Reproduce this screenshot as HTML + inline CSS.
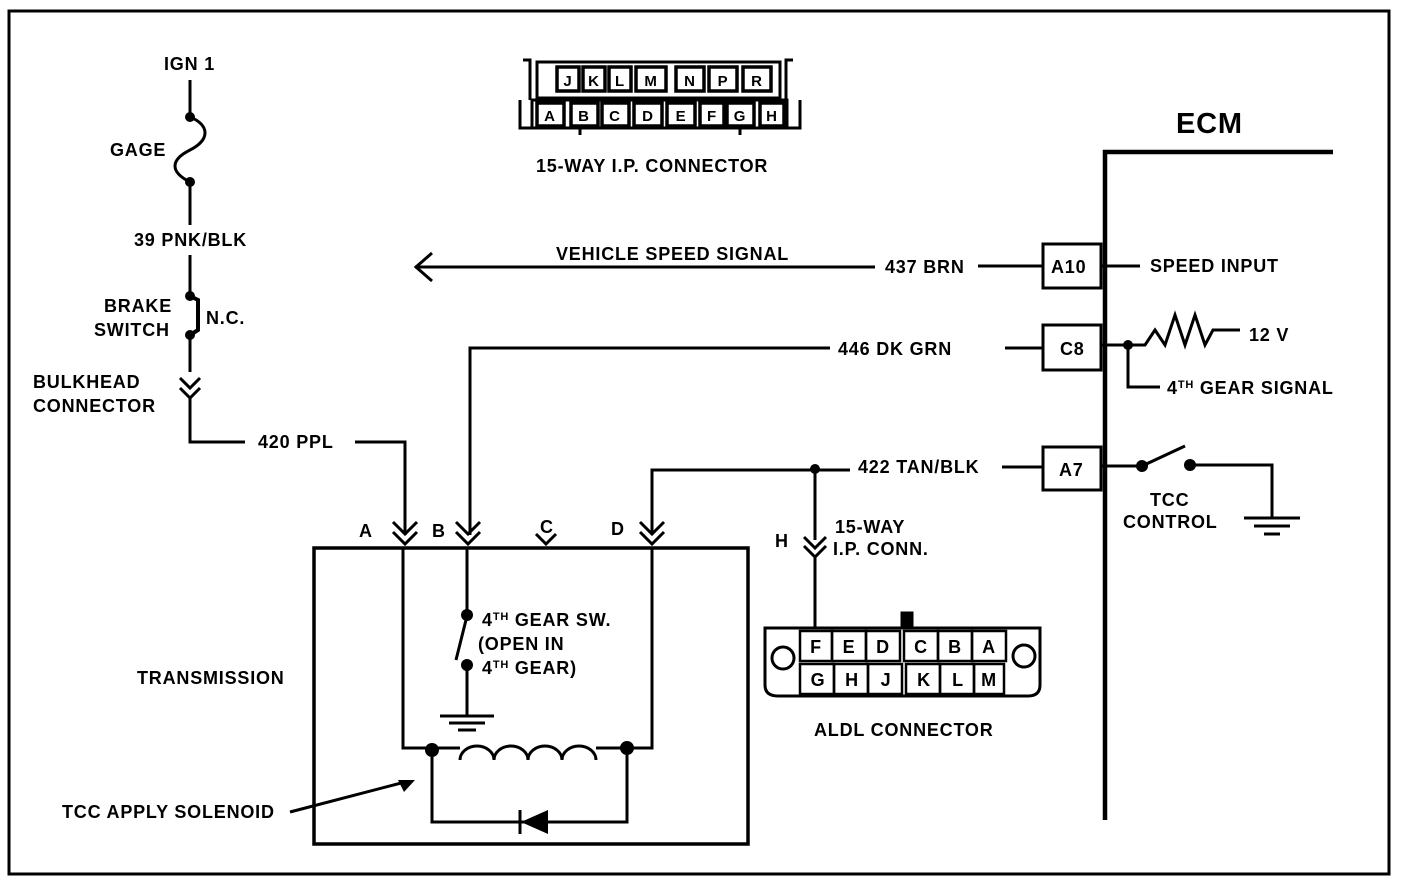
<!DOCTYPE html>
<html><head><style>html,body{margin:0;padding:0;background:#fff}svg{display:block}
text{font-family:"Liberation Sans",sans-serif;font-weight:bold;font-size:18px;letter-spacing:0.8px;fill:#000}</style></head><body>
<svg width="1408" height="886" viewBox="0 0 1408 886" xmlns="http://www.w3.org/2000/svg">
<g stroke="#000" fill="none" stroke-width="3">
<rect x="9" y="11" width="1380" height="863" stroke-width="3"/>
<line x1="190" y1="80" x2="190" y2="117"/>
<path d="M190 117 C210 125,210 140,190 150 C170 160,170 172,190 182" stroke-width="3"/>
<line x1="190" y1="182" x2="190" y2="225"/>
<line x1="190" y1="255" x2="190" y2="292"/>
<path d="M190 296 L198 300 L198 330 L190 335" stroke-width="4"/>
<line x1="190" y1="335" x2="190" y2="372"/>
<path d="M180 378 L190 388 L200 378 M180 388 L190 398 L200 388" stroke-width="3"/>
<polyline points="190,398 190,442 245,442"/>
<polyline points="355,442 405,442 405,535"/>
<rect x="314" y="548" width="434" height="296" stroke-width="3.5"/>
<path d="M393 522 L405 534 L417 522 M393 532 L405 544 L417 532" stroke-width="3"/>
<path d="M456 522 L468 534 L480 522 M456 532 L468 544 L480 532" stroke-width="3"/>
<path d="M536 534 L546 544 L556 534" stroke-width="3"/>
<path d="M640 522 L652 534 L664 522 M640 532 L652 544 L664 532" stroke-width="3"/>
<polyline points="470,535 470,348 830,348"/>
<polyline points="652,535 652,470 850,470"/>
<line x1="815" y1="470" x2="815" y2="540"/>
<path d="M804 537 L815 548 L826 537 M804 546 L815 557 L826 546" stroke-width="3"/>
<line x1="815" y1="557" x2="815" y2="628"/>
<polyline points="403,548 403,748 432,748"/>
<polyline points="652,548 652,748 627,748"/>
<line x1="467" y1="548" x2="467" y2="615"/>
<line x1="467" y1="616" x2="456" y2="660" stroke-width="3"/>
<line x1="467" y1="665" x2="467" y2="715"/>
<line x1="440" y1="716" x2="494" y2="716"/>
<line x1="449" y1="723" x2="485" y2="723"/>
<line x1="458" y1="730" x2="476" y2="730"/>
<line x1="432" y1="748" x2="460" y2="748"/>
<path d="M460 760 a17 14 0 0 1 34 0 a17 14 0 0 1 34 0 a17 14 0 0 1 34 0 a17 14 0 0 1 34 0"/>
<line x1="596" y1="748" x2="627" y2="748"/>
<polyline points="432,748 432,822 627,822 627,748"/>
<line x1="520" y1="810" x2="520" y2="834" stroke-width="3"/>
<line x1="290" y1="812" x2="405" y2="782"/>
<polyline points="1333,152 1105,152 1105,820" stroke-width="4.5"/>
<rect x="1043" y="244" width="58" height="44"/>
<rect x="1043" y="325" width="58" height="45"/>
<rect x="1043" y="447" width="58" height="43"/>
<line x1="415" y1="267" x2="875" y2="267"/>
<path d="M432 253 L416 267 L432 281"/>
<line x1="978" y1="266" x2="1043" y2="266"/>
<line x1="1101" y1="266" x2="1140" y2="266"/>
<line x1="1005" y1="348" x2="1043" y2="348"/>
<polyline points="1101,345 1145,345 1155,330 1165,345 1175,315 1185,345 1195,315 1205,345 1213,330 1240,330"/>
<polyline points="1128,345 1128,387 1160,387"/>
<line x1="1002" y1="467" x2="1043" y2="467"/>
<line x1="1101" y1="466" x2="1142" y2="466"/>
<line x1="1142" y1="466" x2="1185" y2="446" stroke-width="3"/>
<polyline points="1190,465 1272,465 1272,518"/>
<line x1="1244" y1="518" x2="1300" y2="518"/>
<line x1="1254" y1="526" x2="1290" y2="526"/>
<line x1="1264" y1="534" x2="1280" y2="534"/>
<path d="M523 60 L530 60 L530 100 M793 60 L786 60 L786 100" />
<rect x="537" y="62" width="243" height="36"/>
<path d="M520 100 L520 128 L800 128 L800 100"/>
<rect x="532" y="100" width="255" height="28"/>
<path d="M580 128 L580 135 M740 128 L740 135"/>
<path d="M765 628 L1040 628 L1040 685 Q1040 696 1028 696 L778 696 Q765 696 765 685 Z"/>
<rect x="902" y="613" width="10" height="15" fill="#000"/>
<circle cx="783" cy="658" r="11"/>
<circle cx="1024" cy="656" r="11"/>
</g>
<g fill="#000">
<circle cx="190" cy="117" r="5"/><circle cx="190" cy="182" r="5"/>
<circle cx="190" cy="296" r="5"/><circle cx="190" cy="335" r="5"/>
<circle cx="815" cy="469" r="5"/>
<circle cx="467" cy="615" r="6"/><circle cx="467" cy="665" r="6"/>
<circle cx="432" cy="750" r="7"/><circle cx="627" cy="748" r="7"/>
<polygon points="521,822 548,810 548,834"/>
<polygon points="415,780 398,780 404,792"/>
<circle cx="1128" cy="345" r="5"/>
<circle cx="1142" cy="466" r="6"/><circle cx="1190" cy="465" r="6"/>
</g>
<g stroke="#000" stroke-width="3.5" fill="#fff">
<rect x="557" y="67" width="22" height="24"/><rect x="583" y="67" width="22" height="24"/><rect x="609" y="67" width="22" height="24"/><rect x="636" y="67" width="30" height="24"/><rect x="676" y="67" width="28" height="24"/><rect x="709" y="67" width="28" height="24"/><rect x="743" y="67" width="28" height="24"/>
<rect x="537" y="103" width="27" height="23"/><rect x="571" y="103" width="27" height="23"/><rect x="602" y="103" width="27" height="23"/><rect x="634" y="103" width="28" height="23"/><rect x="667" y="103" width="28" height="23"/><rect x="700" y="103" width="24" height="23"/><rect x="727" y="103" width="27" height="23"/><rect x="760" y="103" width="24" height="23"/>
</g>
<g stroke="#000" stroke-width="2.5" fill="none">
<rect x="800" y="631" width="32" height="30"/><rect x="832" y="631" width="34" height="30"/><rect x="866" y="631" width="34" height="30"/><rect x="904" y="631" width="34" height="30"/><rect x="938" y="631" width="34" height="30"/><rect x="972" y="631" width="34" height="30"/>
<rect x="800" y="664" width="34" height="30"/><rect x="834" y="664" width="34" height="30"/><rect x="868" y="664" width="34" height="30"/><rect x="906" y="664" width="34" height="30"/><rect x="940" y="664" width="34" height="30"/><rect x="974" y="664" width="30" height="30"/>
</g>
<g text-anchor="middle">
<text x="568" y="86" style="font-size:15px">J</text><text x="594" y="86" style="font-size:15px">K</text><text x="620" y="86" style="font-size:15px">L</text><text x="651" y="86" style="font-size:15px">M</text><text x="690" y="86" style="font-size:15px">N</text><text x="723" y="86" style="font-size:15px">P</text><text x="757" y="86" style="font-size:15px">R</text>
<text x="550" y="121" style="font-size:15px">A</text><text x="584" y="121" style="font-size:15px">B</text><text x="615" y="121" style="font-size:15px">C</text><text x="648" y="121" style="font-size:15px">D</text><text x="681" y="121" style="font-size:15px">E</text><text x="712" y="121" style="font-size:15px">F</text><text x="740" y="121" style="font-size:15px">G</text><text x="772" y="121" style="font-size:15px">H</text>
<text x="816" y="653">F</text><text x="849" y="653">E</text><text x="883" y="653">D</text><text x="921" y="653">C</text><text x="955" y="653">B</text><text x="989" y="653">A</text>
<text x="818" y="686">G</text><text x="852" y="686">H</text><text x="886" y="686">J</text><text x="924" y="686">K</text><text x="958" y="686">L</text><text x="989" y="686">M</text>
</g>
<text x="164" y="70">IGN 1</text>
<text x="110" y="156">GAGE</text>
<text x="134" y="246">39  PNK/BLK</text>
<text x="104" y="312">BRAKE</text>
<text x="94" y="336">SWITCH</text>
<text x="206" y="324">N.C.</text>
<text x="33" y="388">BULKHEAD</text>
<text x="33" y="412">CONNECTOR</text>
<text x="258" y="448">420 PPL</text>
<text x="536" y="172">15-WAY I.P. CONNECTOR</text>
<text x="556" y="260">VEHICLE SPEED SIGNAL</text>
<text x="885" y="273">437 BRN</text>
<text x="838" y="355">446 DK GRN</text>
<text x="858" y="473">422 TAN/BLK</text>
<text x="1176" y="133" style="font-size:29px">ECM</text>
<text x="1051" y="273">A10</text>
<text x="1060" y="355">C8</text>
<text x="1059" y="476">A7</text>
<text x="1150" y="272">SPEED INPUT</text>
<text x="1249" y="341">12 V</text>
<text x="1167" y="394">4<tspan dy="-6" font-size="11">TH</tspan><tspan dy="6"> GEAR SIGNAL</tspan></text>
<text x="1150" y="506">TCC</text>
<text x="1123" y="528">CONTROL</text>
<text x="359" y="537">A</text><text x="432" y="537">B</text><text x="540" y="533">C</text><text x="611" y="535">D</text>
<text x="775" y="547">H</text>
<text x="835" y="533">15-WAY</text>
<text x="833" y="555">I.P. CONN.</text>
<text x="482" y="626">4<tspan dy="-6" font-size="11">TH</tspan><tspan dy="6"> GEAR SW.</tspan></text>
<text x="478" y="650">(OPEN IN</text>
<text x="482" y="674">4<tspan dy="-6" font-size="11">TH</tspan><tspan dy="6"> GEAR)</tspan></text>
<text x="137" y="684">TRANSMISSION</text>
<text x="814" y="736">ALDL CONNECTOR</text>
<text x="62" y="818">TCC APPLY SOLENOID</text>
</svg>
</body></html>
